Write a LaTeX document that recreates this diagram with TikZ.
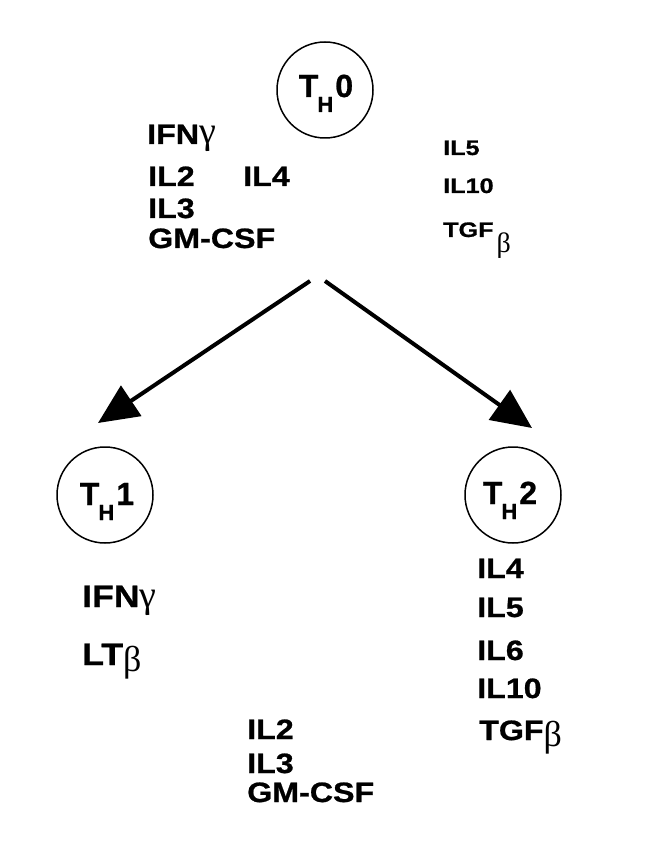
\documentclass[tikz,border=0pt]{standalone}
\usepackage{fontspec}
\usetikzlibrary{arrows.meta}
\setmainfont[FakeBold=0.8]{Liberation Sans}
\newfontfamily\labfont[FakeStretch=1.15,FakeBold=0.8]{Liberation Sans}
\newfontfamily\smfont[FakeStretch=1.2,FakeBold=0.8]{Liberation Sans}
\newfontfamily\grkfont{Liberation Serif}
\newcommand\gam{{\grkfont\mdseries\fontsize{38}{38}\selectfont γ}}
\newcommand\bet[2][-8pt]{\raisebox{#1}{\grkfont\mdseries\fontsize{#2}{#2}\selectfont β}}
\newcommand\thlab[1]{T\kern-1pt\raisebox{-15pt}{\fontsize{22}{22}\selectfont H}\kern2pt#1}
\begin{document}
\begin{tikzpicture}[x=1pt,y=-1pt]
\useasboundingbox[fill=white] (0,0) rectangle (666,858);
\tikzset{
 cell/.style={circle,draw,line width=1.5pt,minimum size=96pt,inner sep=0pt},
 lbl/.style={anchor=base west,inner sep=0pt,font=\labfont\bfseries\fontsize{28}{28}\selectfont},
 biglbl/.style={anchor=base west,inner sep=0pt,font=\labfont\bfseries\fontsize{31}{31}\selectfont},
 smalltxt/.style={anchor=base west,inner sep=0pt,font=\smfont\bfseries\fontsize{21}{21}\selectfont},
 thtxt/.style={anchor=base,inner sep=0pt,font=\bfseries\fontsize{32}{32}\selectfont},
 arr/.style={line width=4pt,-{Triangle[length=40pt,width=36pt]}}
}
% cells
\node[cell] (th0) at (325,90) {};
\node[thtxt] (th0l) at (326,97) {\thlab{0}};
\node[cell] (th1) at (105,495) {};
\node[thtxt] (th1l) at (107,505) {\thlab{1}};
\node[cell] (th2) at (513,495) {};
\node[thtxt] (th2l) at (510,504) {\thlab{2}};
% top-left list
\node[lbl] (t1) at (147,144) {IFN\gam};
\node[lbl] (t2) at (148,186) {IL2};
\node[lbl] (t3) at (148,218) {IL3};
\node[lbl] (t4) at (148,248) {GM-CSF};
\node[lbl] (t5) at (243,186) {IL4};
% top-right list
\node[smalltxt] (r1) at (443,155) {IL5};
\node[smalltxt] (r2) at (443,193) {IL10};
\node[smalltxt] (r3) at (443,237) {TGF\kern3pt\bet[-16pt]{28}};
% arrows
\coordinate (a1s) at (310,281);
\coordinate (a1e) at (98,423);
\coordinate (a2s) at (325,281);
\coordinate (a2e) at (532,428);
\draw[arr] (a1s) -- (a1e);
\draw[arr] (a2s) -- (a2e);
% TH1 list
\node[biglbl] (l1) at (82,607) {IFN\gam};
\node[biglbl] (l2) at (82,665) {LT\bet[-6pt]{36}};
% TH2 list
\node[lbl] (m1) at (477,578) {IL4};
\node[lbl] (m2) at (477,617) {IL5};
\node[lbl] (m3) at (477,660) {IL6};
\node[lbl] (m4) at (477,698) {IL10};
\node[lbl] (m5) at (479,740) {TGF\bet[-6pt]{36}};
% bottom list
\node[lbl] (b1) at (247,739) {IL2};
\node[lbl] (b2) at (247,773) {IL3};
\node[lbl] (b3) at (247,802) {GM-CSF};
\end{tikzpicture}
\end{document}
